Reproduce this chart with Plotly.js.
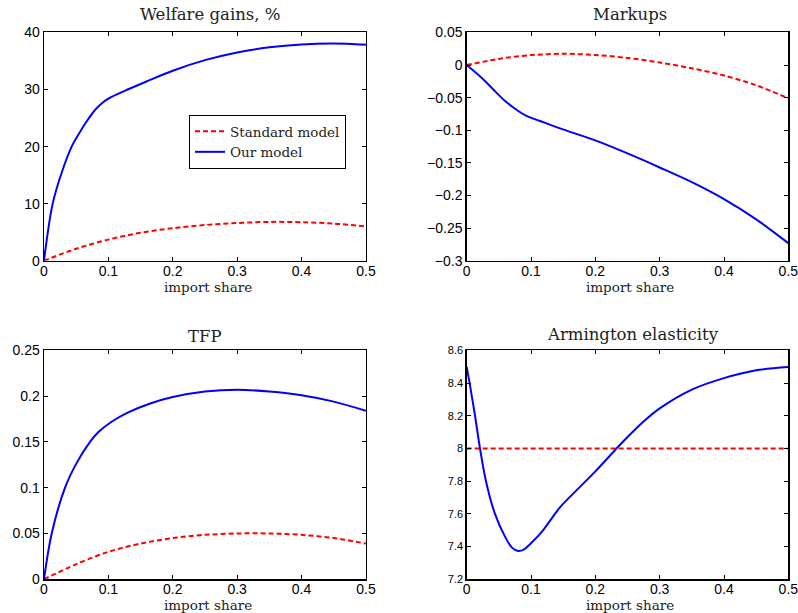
<!DOCTYPE html>
<html>
<head>
<meta charset="utf-8">
<script src="https://cdn.plot.ly/plotly-3.0.1.min.js"></script>
<style>html,body{margin:0;padding:0;background:#fff}#chart{width:798px;height:613px}</style>
</head>
<body>
<div id="chart"></div>
<script>
// ---- Data ----
const seriesNames = ["Standard model", "Our model"];
const panelTitles = ["Welfare gains, %", "Markups", "TFP", "Armington elasticity"];
const xLabel = "import share";

const welfareStdX = [0, 0.05, 0.1, 0.15, 0.2, 0.25, 0.3, 0.35, 0.4, 0.45, 0.5];
const welfareStdY = [0, 2.1, 3.7, 4.9, 5.7, 6.25, 6.6, 6.8, 6.75, 6.5, 6.0];
const welfareOurX = [0, 0.0135, 0.028, 0.043, 0.055, 0.068, 0.08, 0.09, 0.1, 0.115, 0.13, 0.16, 0.2, 0.25, 0.3, 0.35, 0.4, 0.45, 0.5];
const welfareOurY = [0, 10, 15.6, 20, 22.4, 24.7, 26.5, 27.6, 28.4, 29.25, 30.0, 31.45, 33.3, 35.15, 36.5, 37.4, 37.9, 38.05, 37.85];

const markupStdX = [0, 0.05, 0.1, 0.15, 0.2, 0.25, 0.3, 0.35, 0.4, 0.45, 0.5];
const markupStdY = [0, 0.0095, 0.0153, 0.0173, 0.0155, 0.011, 0.004, -0.005, -0.016, -0.031, -0.051];
const markupOurX = [0, 0.026, 0.041, 0.057, 0.0725, 0.093, 0.114, 0.145, 0.2, 0.25, 0.3, 0.35, 0.4, 0.45, 0.5];
const markupOurY = [0, -0.022, -0.037, -0.0526, -0.065, -0.078, -0.0857, -0.097, -0.1155, -0.1355, -0.157, -0.1795, -0.2055, -0.2365, -0.273];

const tfpStdX = [0, 0.05, 0.1, 0.15, 0.2, 0.25, 0.3, 0.35, 0.4, 0.45, 0.5];
const tfpStdY = [0, 0.0165, 0.030, 0.039, 0.045, 0.0485, 0.050, 0.050, 0.0485, 0.045, 0.039];
const tfpOurX = [0, 0.012, 0.0327, 0.05, 0.0715, 0.085, 0.105, 0.13, 0.165, 0.2, 0.25, 0.3, 0.35, 0.4, 0.45, 0.5];
const tfpOurY = [0, 0.05, 0.1, 0.126, 0.15, 0.161, 0.172, 0.182, 0.192, 0.199, 0.205, 0.207, 0.205, 0.201, 0.194, 0.184];

const armStdX = [0, 0.5];
const armStdY = [8, 8];
const armOurX = [0, 0.005, 0.013, 0.0207, 0.03, 0.044, 0.0596, 0.07, 0.08, 0.09, 0.1, 0.119, 0.13, 0.145, 0.171, 0.2, 0.233, 0.25, 0.275, 0.3, 0.35, 0.4, 0.45, 0.5];
const armOurY = [8.5, 8.39, 8.2, 8.0, 7.8, 7.6, 7.461, 7.395, 7.373, 7.385, 7.42, 7.501, 7.56, 7.64, 7.745, 7.86, 8.0, 8.07, 8.165, 8.245, 8.36, 8.43, 8.478, 8.498];

// ---- Styling ----
const RED = "#ff0000", BLUE = "#0000ff";
const stdLine = {color: RED, width: 2, dash: "5px,3px", shape: "spline", smoothing: 0.9};
const ourLine = {color: BLUE, width: 2, shape: "spline", smoothing: 0.9};

function pair(xs, ys, name, line, ax, show) {
  return {x: xs, y: ys, type: "scatter", mode: "lines", name: name, line: line,
          xaxis: "x" + ax, yaxis: "y" + ax, showlegend: show, hoverinfo: "skip"};
}

const data = [
  pair(welfareStdX, welfareStdY, seriesNames[0], stdLine, "", true),
  pair(welfareOurX, welfareOurY, seriesNames[1], ourLine, "", true),
  pair(markupStdX, markupStdY, seriesNames[0], stdLine, "2", false),
  pair(markupOurX, markupOurY, seriesNames[1], ourLine, "2", false),
  pair(tfpStdX, tfpStdY, seriesNames[0], stdLine, "3", false),
  pair(tfpOurX, tfpOurY, seriesNames[1], ourLine, "3", false),
  pair(armStdX, armStdY, seriesNames[0], {color: RED, width: 2, dash: "5px,3px"}, "4", false),
  pair(armOurX, armOurY, seriesNames[1], ourLine, "4", false)
];

const tickFont = {family: "Liberation Sans, Arial, sans-serif", size: 14, color: "#000"};
function xax(dom, anchor) {
  return {domain: dom, anchor: anchor, range: [0, 0.5], dtick: 0.1, tick0: 0,
          showline: true, linecolor: "#000", linewidth: 1.4, mirror: "ticks",
          ticks: "inside", ticklen: 4, tickwidth: 1, tickcolor: "#000",
          showgrid: false, zeroline: false, tickfont: tickFont, fixedrange: true,
          ticklabelstandoff: -3, ticklabeloverflow: "allow"};
}
function yax(dom, anchor, range, dtick, fsize) {
  return {domain: dom, anchor: anchor, range: range, dtick: dtick, tick0: 0,
          showline: true, linecolor: "#000", linewidth: 1.4, mirror: "ticks",
          ticks: "inside", ticklen: 4, tickwidth: 1, tickcolor: "#000",
          showgrid: false, zeroline: false, ticklabeloverflow: "allow",
          tickfont: Object.assign({}, tickFont, {size: fsize || 14}), fixedrange: true};
}

const colL = [0.0551, 0.4586], colR = [0.5848, 0.9879];
const rowT = [0.5747, 0.947], rowB = [0.055, 0.4285];

const serif = "DejaVu Serif, Liberation Serif, serif";
function ann(text, x, y, size) {
  return {text: text, x: x, y: y, xref: "paper", yref: "paper", showarrow: false,
          xanchor: "center", yanchor: "middle", borderpad: 0,
          font: {family: serif, size: size, color: "#222"}};
}

const layout = {
  width: 798, height: 613,
  margin: {l: 0, r: 0, t: 0, b: 0},
  paper_bgcolor: "#fff", plot_bgcolor: "#fff",
  xaxis: xax(colL, "y"), yaxis: yax(rowT, "x", [0, 40], 10, 14),
  xaxis2: xax(colR, "y2"), yaxis2: yax(rowT, "x2", [-0.3, 0.05], 0.05, 14),
  xaxis3: xax(colL, "y3"), yaxis3: yax(rowB, "x3", [0, 0.25], 0.05, 14),
  xaxis4: xax(colR, "y4"), yaxis4: yax(rowB, "x4", [7.2, 8.6], 0.2, 11),
  showlegend: true,
  legend: {x: 189/798, y: 1 - 115/613, xanchor: "left", yanchor: "top",
           bgcolor: "#fff", bordercolor: "#000", borderwidth: 1,
           font: {family: serif, size: 13.5, color: "#222"},
           tracegroupgap: 0, itemwidth: 30, traceorder: "normal"},
  annotations: [
    ann(panelTitles[0], 210/798, 1 - 14/613, 16.5),
    ann(panelTitles[1], 630/798, 1 - 14/613, 16.5),
    ann(panelTitles[2], 205/798, 1 - 336/613, 16.5),
    ann(panelTitles[3], 633/798, 1 - 334/613, 16.5),
    ann(xLabel, 208/798, 1 - 287/613, 13.5),
    ann(xLabel, 630/798, 1 - 287/613, 13.5),
    ann(xLabel, 208/798, 1 - 605/613, 13.5),
    ann(xLabel, 630/798, 1 - 605/613, 13.5)
  ]
};

Plotly.newPlot("chart", data, layout, {staticPlot: true, displayModeBar: false});
</script>
</body>
</html>
